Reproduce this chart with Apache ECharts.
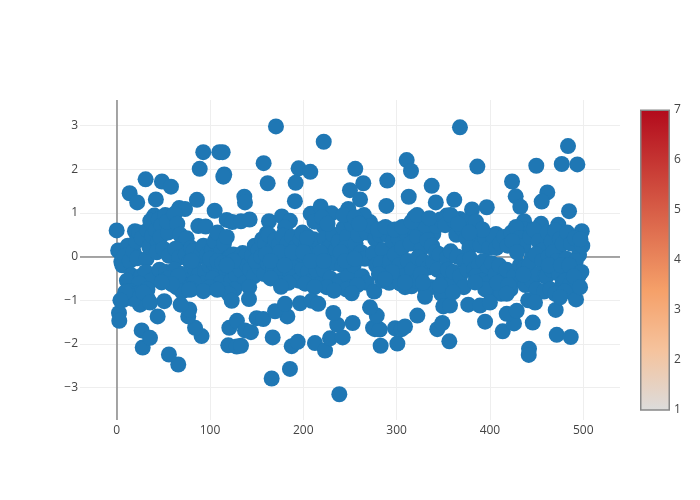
<!DOCTYPE html>
<html>
<head>
<meta charset="utf-8">
<style>
  html, body { margin: 0; background: #fff; }
  #chart { width: 700px; height: 500px; }
</style>
<script src="https://cdn.jsdelivr.net/npm/echarts@6/dist/echarts.min.js"></script>
</head>
<body>
<div id="chart"></div>
<script>
// tick labels
const xTicks = [0, 100, 200, 300, 400, 500];
const yTicks = [-3, -2, -1, 0, 1, 2, 3];

// points sticking out above the band
const upperPoints = [
  [170.7,2.98],[221.9,2.63],[92.8,2.39],[110,2.39],[113.6,2.39],[89,2.01],[115.3,1.88],[114.3,1.83],
  [157.5,2.14],[161.8,1.68],[195,2.02],[207.5,1.94],[191.8,1.69],[191,1.27],[255.7,2.01],[264.3,1.68],
  [250,1.52],[260.8,1.31],[31,1.77],[48.5,1.72],[58.2,1.6],[13.9,1.45],[22,1.24],[42,1.31],[86,1.3],
  [136.8,1.37],[137.5,1.24],[105,1.05],[67,1.11],[73.2,1.09],[40.3,.94],[117.9,.84],[123.9,.79],
  [133.2,.81],[142.5,.85],[87.5,.7],[95.4,.69],[0,.6],[19.6,.58],[163.2,.81],[177,.92],[185.7,.82],
  [180.4,.67],[160.8,.53],[207.9,.98],[218.6,1.15],[230.4,.99],[248.2,1.09],[222,.69],[203.6,.48],
  [107,.44],[367.9,2.96],[386.5,2.06],[483.7,2.53],[477,2.12],[493.7,2.11],[449.7,2.08],[310.8,2.21],
  [315.4,1.96],[423.7,1.72],[427.6,1.38],[432.6,1.14],[461.5,1.47],[455.5,1.26],[290,1.74],[313,1.37],
  [289,1.16],[337.6,1.62],[342,1.24],[361.8,1.3],[380.8,1.08],[396.6,1.13],[319,.9],[353.7,.94],
  [367.9,.86],[484.8,1.04],[436.6,.81],[454.8,.75],[473.3,.73],[498.4,.58],[384,.67],[406.5,.52],
  [339.3,.52],[314.3,.44],[292.9,.52],[271.5,.79],[496.6,.33],[495.5,.04],[444.8,-.02],[435.8,.63],[473,.21]
];

// points sticking out below the band
const lowerPoints = [
  [238.6,-3.15],[166.1,-2.79],[185.7,-2.57],[66,-2.47],[56,-2.24],[27.9,-2.08],[26.8,-1.69],[35.7,-1.86],
  [2.5,-1.29],[2.8,-1.47],[91,-1.82],[84,-1.63],[76.7,-1.37],[77.8,-1.21],[68.6,-1.1],[43.9,-1.37],
  [51,-1.02],[119.6,-2.03],[128.6,-2.06],[133.2,-2.04],[120.7,-1.63],[128.9,-1.47],[137.5,-1.69],[143.9,-1.73],
  [150,-1.41],[157.1,-1.43],[167.2,-1.85],[187.6,-2.05],[194,-1.95],[212.5,-1.98],[223.3,-2.15],[228.6,-1.87],
  [242.2,-1.85],[236.4,-1.56],[232.2,-1.29],[252.9,-1.52],[182.9,-1.37],[169.7,-1.25],[180.4,-1.08],[196.5,-1.07],
  [209,-1.01],[216,-1.08],[141.8,-.97],[123.3,-1.01],[10.7,-.8],[7.1,-.99],[25,-1.1],[17.8,-.97],[28.5,-.82],
  [35.7,-1.05],[92.9,-.79],[107.8,-.76],[77.5,-.76],[59,-.63],[48.2,-.59],[176.1,-.69],[232.9,-.78],[251.9,-.84],
  [274.7,-1.63],[282.9,-2.04],[300.8,-1.99],[276.8,-1.66],[282,-1.67],[298.3,-1.64],[305.4,-1.66],[309,-1.6],
  [278.7,-1.35],[271.5,-1.16],[322.2,-1.35],[356.5,-1.94],[343.6,-1.66],[349,-1.52],[350,-1.14],[357.2,-1.12],
  [330.4,-.92],[394.8,-1.49],[413.7,-1.71],[425.8,-1.53],[445.9,-1.51],[441.9,-2.11],[441.6,-2.25],[471.6,-1.79],
  [486.6,-1.84],[470.5,-1.22],[492.3,-.98],[418,-1.31],[428.7,-1.24],[376.8,-1.1],[389.4,-1.12],[400,-1.05],
  [418,-.85],[441,-1],[448.3,-1.05],[435.8,-.41],[287.6,-.51],[309,-.59],[328.3,-.59],[346.5,-.66],[360.4,-.82],
  [384,-.59],[496.6,-.7],[475.1,-.93],[9,-.82],[4,-1]
];

// the dense band around zero
const bandPoints = [
  [1.6,.14],[4,.1],[5,-.12],[7,-.05],[6,-.2],[12,.25],[9,.02],[14,-.1],[16,-.43],[18,.12],[11,-.55],
  [21,.35],[24,.55],[27,.42],[33,.6],[36,.82],[22,-.04],[32,-.05],[35,.22],[38,.48],[26,-.45],[31,-.35],[37,-.55],[24,-.62],[33,-.75],
  [42,.6],[45,.85],[48,.72],[44,.33],[47,.45],[52,.95],[55,.55],[43,.1],[50,.18],[56,.02],[46,-.3],[53,-.35],[58,-.6],[49,-.55],[54,.8],
  [62,.98],[65,.75],[68,.5],[72,.3],[75,.42],[63,.18],[67,-.02],[74,.05],[78,-.1],[62,-.3],[70,-.4],[76,-.55],[64,-.7],[72,-.65],[80,.2],
  [82,.12],[85,-.05],[90,.05],[93,.25],[97,.05],[84,-.3],[88,-.42],[95,-.35],[92,-.62],[99,-.2],[83,-.6],
  [102,.15],[105,.35],[108,.55],[112,.12],[115,.3],[118,.45],[104,-.15],[110,-.3],[117,-.4],[103,-.5],[112,-.6],[119,-.05],
  [122,0],[125,.05],[130,-.05],[135,.08],[138,0],[123,-.55],[128,-.42],[133,-.3],[137,-.6],[126,-.75],[140,-.2],
  [145,.02],[148,.25],[152,.15],[156,.4],[159,.3],[143,-.3],[147,-.45],[153,-.25],[158,-.4],[142,-.7],[149,-.1],[155,0],
  [163,.5],[166,.15],[170,.38],[174,.28],[178,.48],[162,-.15],[168,-.3],[172,-.45],[176,-.25],[165,-.5],[179,.08],[171,-.05],
  [183,.3],[188,.45],[192,.22],[197,.4],[182,-.05],[186,-.35],[191,-.12],[195,-.55],[199,-.28],[184,-.6],[198,.05],
  [203,.25],[207,.05],[212,.15],[216,-.05],[205,-.35],[209,-.55],[214,-.3],[219,-.62],[202,-.62],[211,.4],
  [223,.42],[228,.22],[232,.5],[226,0],[235,.15],[222,-.3],[229,-.5],[233,-.15],[238,.35],[225,-.7],[240,-.55],
  [243,.65],[247,.45],[252,.75],[245,.2],[250,.05],[256,.3],[242,-.2],[248,-.45],[254,-.2],[259,.5],[251,-.7],
  [262,.85],[265,.95],[268,.55],[272,.7],[277,.4],[262,.1],[266,-.05],[275,.08],[263,-.45],[268,-.6],[278,-.2],[276,-.8],
  [282,.5],[285,.15],[290,.5],[296,.35],[283,-.15],[288,-.35],[293,-.1],[298,.05],[285,-.55],[292,-.6],[299,-.45],
  [302,.42],[306,.2],[310,.55],[315,.3],[318,.65],[303,-.2],[307,-.45],[312,-.1],[317,-.3],[309,-.7],[316,-.68],
  [322,.45],[325,.78],[330,.72],[326,.15],[333,.38],[338,.25],[323,-.02],[329,-.12],[334,-.25],[339,-.12],[331,-.75],[337,-.7],
  [343,.7],[347,.85],[352,.72],[342,.1],[346,.05],[354,-.02],[358,.12],[344,-.3],[350,-.55],[355,-.3],[359,-.62],[348,-.85],
  [362,.82],[364,.5],[370,.65],[375,.42],[378,.2],[365,0],[372,-.1],[361,-.35],[368,-.45],[376,-.3],[379,-.05],[372,-.7],
  [381,.55],[386,.3],[390,.25],[395,.42],[399,.2],[383,-.3],[388,-.2],[393,-.1],[398,-.3],[385,-.45],[391,-.55],[397,-.62],
  [403,.48],[407,.2],[411,.3],[415,.45],[419,.25],[402,-.15],[406,-.4],[410,-.2],[414,-.55],[418,-.3],[405,-.75],[412,-.85],
  [423,.55],[428,.68],[432,.42],[436,.25],[424,.35],[426,-.45],[432,-.2],[429,.1],[437,-.25],[434,-.55],[422,-.75],[438,-.65],
  [443,.45],[447,.62],[452,.35],[457,.15],[442,-.2],[449,.05],[456,-.1],[445,-.55],[452,-.4],[459,-.45],[450,-.75],[458,-.8],
  [462,.55],[466,.35],[470,.6],[475,.4],[463,0],[468,.1],[472,-.1],[478,.3],[461,-.45],[466,-.3],[474,-.4],[478,-.6],[465,-.75],[470,-.85],
  [483,.55],[487,.3],[491,.42],[482,-.05],[488,-.3],[492,-.1],[481,-.55],[486,-.65],[495,-.45],[490,-.85],[499,.25],[497,.4]
];

// more of the band, read where it looks solid in the reference
const bandFillPoints = [
  [212,.8],[220,.9],[226,.75],[243,.95],[255,.9],[260,.75],[199,.55],[204,.42],
  [280,.62],[288,.68],[298,.62],[306,.68],[316,.8],[322,.95],[335,.88],[358,.95],[373,.8],[366,.75],
  [385,.8],[392,.62],[378,.55],[304,-.62],[322,-.55],[326,-.4],[295,-.35],[281,-.4],
  [395,-.75],[408,-.6],[420,-.65],[463,-.2],[476,-.2],[485,-.2],[498,-.35],[490,-.45],[480,-.8],
  [80,-.1],[100,-.05],[108,-.1],[113,-.15],[15,-.8],[22,-.85],[33,-.95],[55,-.5],[66,-.45],[70,-.8],
  [80,-.75],[100,-.7],[115,-.75],[120,-.85],[125,-.1],[118,-.2],
  [160,.05],[175,.1],[188,.1],[165,-.1],[180,-.2],[200,.1],[218,.1],[208,-.1],[222,-.1],[212,-.7],
  [240,.1],[245,-.1],[255,-.05],[246,-.75],[258,-.65]
];

// colour bar
const colorbarTicks = [1, 2, 3, 4, 5, 6, 7];
const colorbarStops = [
  [0, 'rgb(178,10,28)'],
  [0.6, 'rgb(245,160,105)'],
  [0.8, 'rgb(245,195,157)'],
  [1, 'rgb(220,220,220)']
];

const labelStyle = { color: '#444', fontFamily: '"Open Sans", sans-serif', fontSize: 12 };

let chart = echarts.init(document.getElementById('chart'), null, { renderer: 'canvas' });
chart.setOption({
  animation: false,
  backgroundColor: '#fff',
  grid: [
    { left: 80, right: 80, top: 100, bottom: 80 },
    { left: 640, width: 30, top: 109.5, height: 300.5 }
  ],
  xAxis: [
    {
      type: 'value', min: -39.3, max: 539.4,
      axisLine: { show: false },
      axisTick: { show: false, customValues: xTicks },
      axisLabel: { ...labelStyle, customValues: xTicks, margin: 5 },
      splitLine: { show: true, lineStyle: { color: '#eee', width: 1 } }
    },
    { type: 'category', gridIndex: 1, data: ['z'], show: false }
  ],
  yAxis: [
    {
      type: 'value', min: -3.74, max: 3.585,
      axisLine: { show: false },
      axisTick: { show: false, customValues: yTicks },
      axisLabel: {
        ...labelStyle, customValues: yTicks, margin: 2,
        formatter: v => String(v).replace('-', '\u2212')
      },
      splitLine: { show: true, lineStyle: { color: '#eee', width: 1 } }
    },
    {
      type: 'value', gridIndex: 1, min: 1, max: 7, position: 'right',
      axisLine: { show: false },
      axisTick: { show: false, customValues: colorbarTicks },
      axisLabel: { ...labelStyle, customValues: colorbarTicks, margin: 4 },
      splitLine: { show: false }
    }
  ],
  series: [
    {
      // zero lines sit under the markers
      type: 'scatter', data: [], z: 1, silent: true,
      markLine: {
        z: 1, silent: true, symbol: 'none', animation: false, label: { show: false },
        lineStyle: { color: '#888', width: 1.5, type: 'solid' },
        data: [{ xAxis: 0 }, { yAxis: 0 }]
      }
    },
    {
      type: 'scatter',
      data: [...upperPoints, ...bandPoints, ...bandFillPoints, ...lowerPoints],
      symbolSize: 16, z: 3,
      itemStyle: { color: '#1f77b4', opacity: 1 }
    },
    {
      type: 'bar', xAxisIndex: 1, yAxisIndex: 1,
      data: [7], barWidth: '100%', silent: true,
      itemStyle: {
        color: new echarts.graphic.LinearGradient(0, 0, 0, 1,
          colorbarStops.map(s => ({ offset: s[0], color: s[1] }))),
        borderColor: '#888', borderWidth: 1.5, opacity: 1
      }
    }
  ]
});
</script>
</body>
</html>
